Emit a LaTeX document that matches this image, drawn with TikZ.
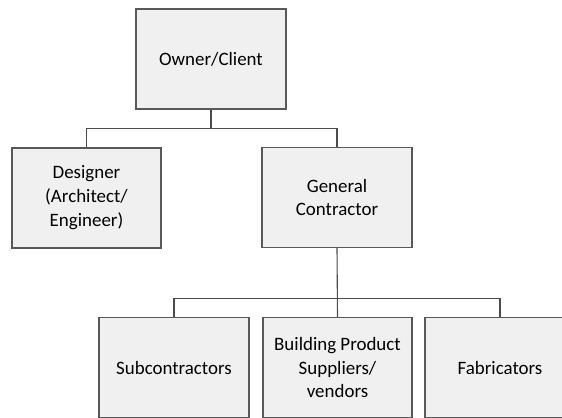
\documentclass[tikz,border=0pt]{standalone}
\usepackage{fontspec}
\setmainfont{Carlito}
\tikzset{
  orgbox/.style={draw=black!65, fill=black!6, line width=1.1bp, minimum width=150bp,
    minimum height=100bp, align=center, inner sep=0pt, font=\fontsize{19}{24}\selectfont},
  orgline/.style={draw=black!70, line width=1.1bp}
}
\begin{document}
\begin{tikzpicture}[x=1bp, y=-1bp]
  \clip (0,0) rectangle (562,417);
  % top level
  \node[orgbox] (owner) at (211,59) {Owner/Client};
  % second level
  \node[orgbox, minimum width=149bp] (designer) at (86.5,198) {Designer\\(Architect/\\Engineer)};
  \node[orgbox] (gc) at (337,197.5) {General\\Contractor};
  % third level
  \node[orgbox] (sub) at (174,367.5) {Subcontractors};
  \node[orgbox, minimum width=149bp] (supply) at (337.5,367.5) {Building Product\\Suppliers/\\vendors};
  \node[orgbox] (fab) at (500,367.5) {Fabricators};
  % connectors
  \draw[orgline] (owner.south) -- ++(0,19) -| (designer.north);
  \draw[orgline] (owner.south) ++(0,19) -| (gc.north);
  \draw[orgline] (gc.south) -- (supply.north);
  \draw[orgline] (gc.south) ++(0,50) -| (sub.north);
  \draw[orgline] (gc.south) ++(0,50) -| (fab.north);
\end{tikzpicture}
\end{document}
